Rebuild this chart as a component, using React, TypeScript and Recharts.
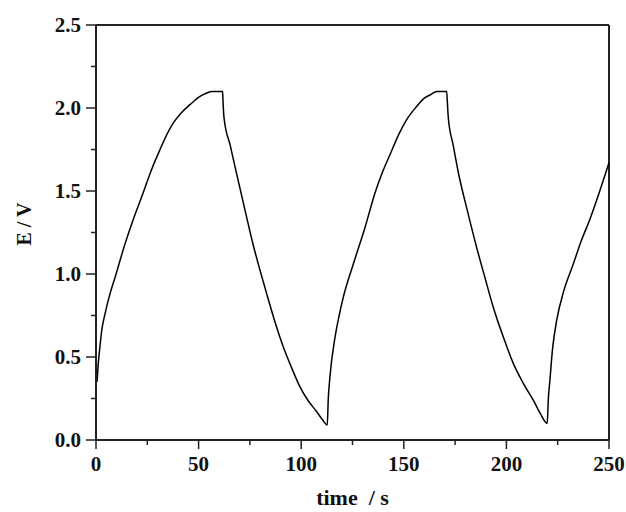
import React from "react"
import { LineChart, Line, XAxis, YAxis, ReferenceLine } from "recharts"

// time (s) vs potential (V)
const TIME = [
  0.5, 1.1, 1.9, 2.8, 4.4, 6.8, 9.3, 14.1, 18.2, 23, 27.1, 31.2, 34.5, 37.7, 41.5, 45.8, 50.7, 54, 56.4, 61.7,
  61.9, 62.4, 65.5, 68.6, 72.7, 76.7, 80, 83.2, 87, 91.3, 95.5, 99.4, 103.5, 107.6, 110.5, 112.7,
  113.2, 114, 116.5, 118.5, 120.5, 125.4, 131.1, 136, 139.5, 143.3, 147.5, 151.4, 156.3, 160, 163, 166, 170.9,
  171.2, 171.7, 174, 176.6, 181, 185.5, 189.5, 193.6, 198.5, 203.4, 208.3, 213.1, 216.5, 219.9,
  220.4, 221.2, 222.5, 224.5, 228, 232.6, 236.5, 240.7, 245.5, 250,
]
const POTENTIAL = [
  0.35, 0.46, 0.56, 0.66, 0.76, 0.88, 0.98, 1.18, 1.33, 1.49, 1.63, 1.75, 1.84, 1.91, 1.97, 2.02, 2.07, 2.09, 2.1, 2.1,
  2.04, 1.94, 1.77, 1.6, 1.38, 1.17, 1.02, 0.88, 0.72, 0.56, 0.43, 0.32, 0.235, 0.17, 0.12, 0.09,
  0.25, 0.38, 0.62, 0.75, 0.86, 1.06, 1.28, 1.49, 1.61, 1.72, 1.84, 1.93, 2.01, 2.06, 2.08, 2.1, 2.1,
  2.04, 1.94, 1.78, 1.61, 1.38, 1.16, 0.98, 0.8, 0.62, 0.46, 0.34, 0.24, 0.16, 0.1,
  0.24, 0.36, 0.55, 0.72, 0.9, 1.06, 1.2, 1.33, 1.5, 1.67,
]
const X_TICKS = [0, 25, 50, 75, 100, 125, 150, 175, 200, 225, 250]
const Y_TICKS = [0, 0.25, 0.5, 0.75, 1, 1.25, 1.5, 1.75, 2, 2.25, 2.5]

const data = TIME.map((t, i) => ({ t, e: POTENTIAL[i] }))

const FONT = "'Liberation Serif', 'Times New Roman', serif"
const AXIS = "#222"

function XTick({ x, y, payload }: any) {
  const v = payload.value
  const major = v % 50 === 0
  return (
    <g>
      <line x1={x} x2={x} y1={y} y2={y + (major ? 9 : 5)} stroke={AXIS} strokeWidth={1.5} />
      {major && (
        <text x={x} y={y + 31} textAnchor="middle" fontFamily={FONT} fontWeight="bold" fontSize={21} fill="#111">
          {v}
        </text>
      )}
    </g>
  )
}

function YTick({ x, y, payload }: any) {
  const v = payload.value
  const major = Math.round(v * 100) % 50 === 0
  return (
    <g>
      <line x1={x - (major ? 10 : 5)} x2={x} y1={y} y2={y} stroke={AXIS} strokeWidth={1.5} />
      {major && (
        <text x={x - 15} y={y + 7} textAnchor="end" fontFamily={FONT} fontWeight="bold" fontSize={21} fill="#111">
          {v.toFixed(1)}
        </text>
      )}
    </g>
  )
}

export default function App() {
  return (
    <div style={{ position: "absolute", left: 0, top: 0, width: 626, height: 512, background: "#fff" }}>
      <LineChart width={626} height={512} data={data} margin={{ top: 25, right: 17, left: 0, bottom: 0 }}>
        <XAxis
          dataKey="t"
          type="number"
          domain={[0, 250]}
          ticks={X_TICKS}
          interval={0}
          height={72}
          tickSize={0}
          tickMargin={0}
          tickLine={false}
          axisLine={{ stroke: AXIS, strokeWidth: 2 }}
          tick={<XTick />}
          label={{
            content: ({ viewBox }: any) => (
              <text
                x={viewBox.x + viewBox.width / 2}
                y={505}
                textAnchor="middle"
                fontFamily={FONT}
                fontWeight="bold"
                fontSize={22}
                fill="#111"
                style={{ whiteSpace: "pre" }}
              >
                {"time  / s"}
              </text>
            ),
          }}
        />
        <YAxis
          type="number"
          domain={[0, 2.5]}
          ticks={Y_TICKS}
          interval={0}
          width={96}
          tickSize={0}
          tickMargin={0}
          tickLine={false}
          axisLine={{ stroke: AXIS, strokeWidth: 2 }}
          tick={<YTick />}
          label={{
            content: () => (
              <text
                transform="translate(31, 224) rotate(-90)"
                textAnchor="middle"
                fontFamily={FONT}
                fontWeight="bold"
                fontSize={20}
                fill="#111"
              >
                E / V
              </text>
            ),
          }}
        />
        <ReferenceLine y={2.5} stroke={AXIS} strokeWidth={2} />
        <ReferenceLine x={250} stroke={AXIS} strokeWidth={2} />
        <Line
          type="monotone"
          dataKey="e"
          stroke="#000"
          strokeWidth={1.5}
          dot={false}
          isAnimationActive={false}
        />
      </LineChart>
    </div>
  )
}
